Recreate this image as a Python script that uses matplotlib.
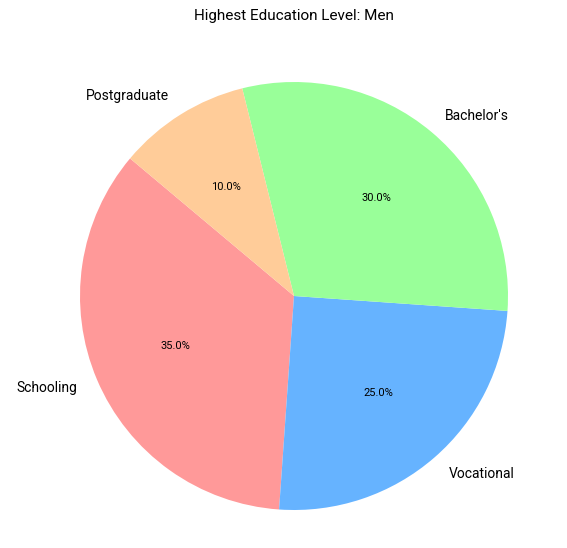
import matplotlib.pyplot as plt

plt.rcParams['font.family'] = ['Roboto', 'DejaVu Sans']

labels = ["Schooling", "Vocational", "Bachelor's", "Postgraduate"]
shares = [35, 25, 30, 10]
colors = ["#ff9999", "#66b3ff", "#99ff99", "#ffcc99"]

fig = plt.figure(figsize=(5.67, 5.48), dpi=100)
# pie centred at (294, 296) px with radius ~214 px
cx, cy, r = 294, 296, 214
ax = fig.add_axes([(cx - r) / 567, (548 - cy - r) / 548, 2 * r / 567, 2 * r / 548])
wedges, texts, autotexts = ax.pie(shares, labels=labels, colors=colors,
                                  autopct="%1.1f%%", startangle=140,
                                  textprops={"fontsize": 10})
for t in autotexts:
    t.set_fontsize(8)
ax.set_xlim(-1, 1)
ax.set_ylim(-1, 1)
fig.text(294 / 567, 1 - 16 / 548, "Highest Education Level: Men",
         ha="center", va="center", fontsize=11)
plt.savefig("out.png", dpi=100)
